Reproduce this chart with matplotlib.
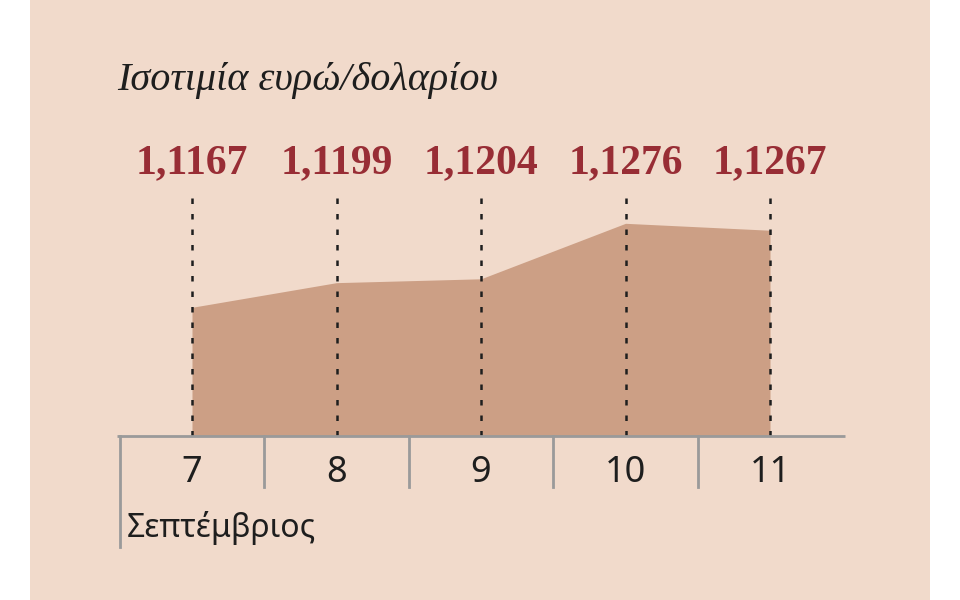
import matplotlib
matplotlib.use("Agg")
import matplotlib.pyplot as plt
import matplotlib.transforms as mtransforms
from matplotlib.patches import Rectangle

days = [7, 8, 9, 10, 11]
rates = [1.1167, 1.1199, 1.1204, 1.1276, 1.1267]
rate_labels = ["1,1167", "1,1199", "1,1204", "1,1276", "1,1267"]
day_labels = ["7", "8", "9", "10", "11"]
title = "Ισοτιμία ευρώ/δολαρίου"
month = "Σεπτέμβριος"
base = 1.10

PANEL = "#f1dacb"
FILL = "#cc9f85"
RED = "#982d35"
GREY = "#9a9a9a"
INK = "#1e1e1e"

fig = plt.figure(figsize=(9.6, 6), dpi=100, facecolor="white")
fig.patches.append(Rectangle((30 / 960, 0), 900 / 960, 1, transform=fig.transFigure,
                             facecolor=PANEL, edgecolor="none", zorder=-5))

ax = fig.add_axes([0, 0, 1, 1])
ax.set_facecolor("none")
ax.axis("off")
# 144.5 px per day, day 7 at x=192; 1.10 at y=436 from top, 7706 px per unit
ax.set_xlim(7 - 192 / 144.5, 7 + (960 - 192) / 144.5)
ax.set_ylim(base - 164 / 7706, base + 436 / 7706)

ax.fill_between(days, rates, base, color=FILL, lw=0, zorder=1)

blend = mtransforms.blended_transform_factory(ax.transData, ax.transAxes)
y_base = 164 / 600
for d, lab, dl in zip(days, rate_labels, day_labels):
    ax.axvline(d, ymin=y_base, ymax=410 / 600, color=INK, lw=1.8,
               linestyle=(0, (2.2, 4)), zorder=2)
    ax.text(d, 427 / 600, lab, transform=blend, ha="center", va="baseline",
            fontsize=30, fontweight="bold", color=RED, family="Liberation Serif")
    ax.text(d, 118 / 600, dl, transform=blend, ha="center",
            va="baseline", fontsize=26, color=INK, family="Noto Sans")

ax.hlines(base, days[0] - 0.52, days[-1] + 0.52, color=GREY, lw=2, zorder=3)
for i, d in enumerate(days):
    low = 53 / 600 if i == 0 else 113 / 600
    ax.axvline(d - 0.5, ymin=low, ymax=y_base, color=GREY, lw=2, zorder=3)

fig.text(117 / 960, 510 / 600, title, ha="left", va="baseline", fontsize=29,
         style="italic", family="Liberation Serif", color=INK)
fig.text(127 / 960, 63 / 600, month, ha="left", va="baseline", fontsize=23,
         family="Noto Sans", color=INK)

fig.savefig("out.png", dpi=100, facecolor="white")
